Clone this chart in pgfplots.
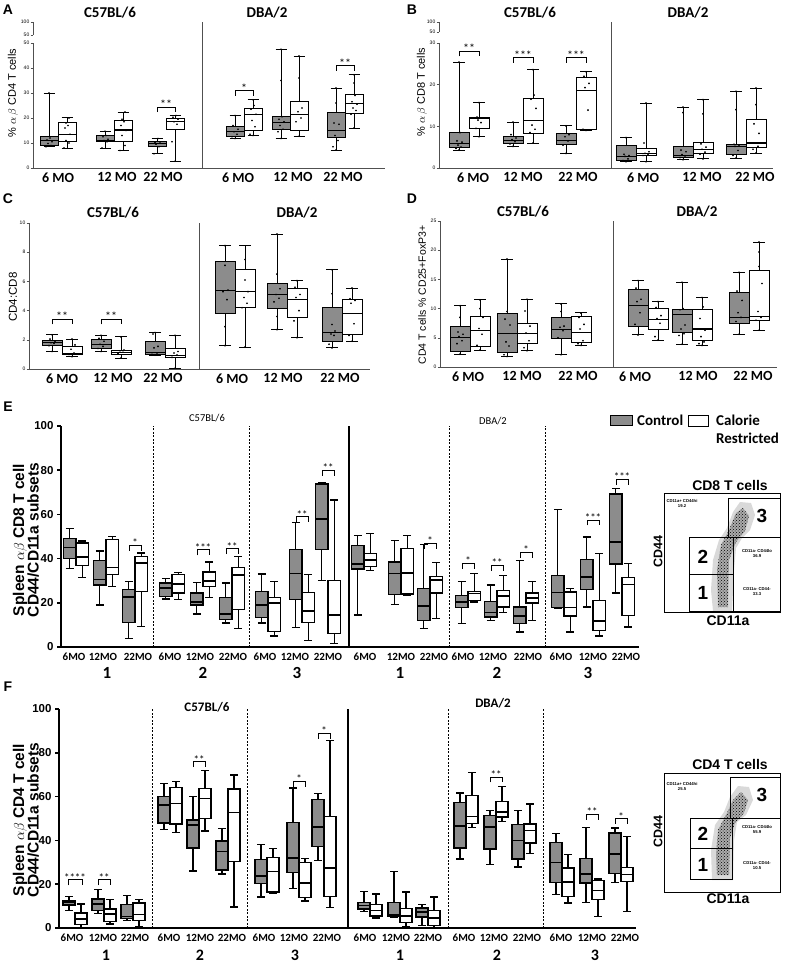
\documentclass[border=0pt]{standalone}
\usepackage{pgfplots}
\pgfplotsset{compat=1.18}
\usetikzlibrary{calc,patterns}
\usepackage{fontspec}
\setmainfont{Carlito}
\newfontfamily\arial{Liberation Sans}
\definecolor{boxgray}{RGB}{140,140,140}
\definecolor{axgray}{RGB}{80,80,80}
\newcommand\fs[1]{\fontsize{#1}{#1}\selectfont}
\def\hw{9}\def\bw{18}\def\cw{11}
\def\blw{0.9pt}\def\mlw{1.1pt}
\newcommand\bx[7]{%
 \pgfmathsetmacro\xa{#1-\bw/2}\pgfmathsetmacro\xb{#1+\bw/2}%
 \pgfmathsetmacro\ca{#1-\cw/2}\pgfmathsetmacro\cb{#1+\cw/2}%
 \addplot[draw=black, line width=\blw, unbounded coords=jump, forget plot] coordinates {(#1,#6)(#1,#7)(nan,nan)(\ca,#7)(\cb,#7)(nan,nan)(#1,#4)(#1,#3)(nan,nan)(\ca,#3)(\cb,#3)};
 \addplot[fill=#2, draw=black, line width=\blw, forget plot] coordinates {(\xa,#4)(\xb,#4)(\xb,#6)(\xa,#6)} -- cycle;
 \addplot[draw=black, line width=\mlw, forget plot] coordinates {(\xa,#5)(\xb,#5)};}
\newcommand\G[6]{\pgfmathsetmacro\xc{#1-\hw}\bx{\xc}{boxgray}{#2}{#3}{#4}{#5}{#6}}
\newcommand\W[6]{\pgfmathsetmacro\xc{#1+\hw}\bx{\xc}{white}{#2}{#3}{#4}{#5}{#6}}
\newcommand\pts[1]{\addplot[only marks, mark=*, mark size=0.65pt, black] coordinates {#1};}
\newcommand\sig[6]{\draw[line width=0.8pt] (axis cs:#1,#3) -- (axis cs:#1,#4) -- (axis cs:#2,#4) -- (axis cs:#2,#3);
 \node[font=\fs{#6}, inner sep=0pt, anchor=base, yshift=-1.5pt] at ($(axis cs:#1,#4)!0.5!(axis cs:#2,#4)$) {#5};}
\pgfplotsset{
 pA/.style={scale only axis, clip=false, axis x line*=bottom, axis y line*=left,
   axis line style={-, axgray, line width=0.7pt}, tick align=outside, major tick length=2.5pt,
   tick style={axgray, line width=0.6pt}, xtick style={draw=none},
   /pgf/number format/assume math mode=true,
   yticklabel style={font=\arial\fs{5}, inner sep=1pt},
   xticklabel style={font=\bfseries\fs{14}, inner sep=2pt}},
 pE/.style={scale only axis, clip=false, axis x line*=bottom, axis y line*=left,
   axis line style={-, black, line width=1.6pt}, tick align=outside, major tick length=4pt,
   tick style={black, line width=1.5pt}, xtick style={draw=none},
   /pgf/number format/assume math mode=true,
   yticklabel style={font=\arial\bfseries\fs{11.5}},
   xticklabel style={font=\bfseries\fs{11}, inner sep=1.5pt, yshift=-0.5pt},
   ytick={0,20,...,100}, ymin=0, ymax=100},
}
\begin{document}
\begin{tikzpicture}
\path[use as bounding box] (0,0) rectangle (785pt,-966pt);
% ---------- panel letters and titles ----------
\node[font=\arial\bfseries\fs{14}] at (8pt,-10pt) {A};
\node[font=\arial\bfseries\fs{14}] at (412pt,-10pt) {B};
\node[font=\arial\bfseries\fs{14}] at (8pt,-199pt) {C};
\node[font=\arial\bfseries\fs{14}] at (412pt,-199pt) {D};
\node[font=\arial\bfseries\fs{14}] at (8pt,-407pt) {E};
\node[font=\arial\bfseries\fs{14}] at (8pt,-687pt) {F};
\node[font=\bfseries\fs{15}] at (110pt,-13pt) {C57BL/6};
\node[font=\bfseries\fs{15}] at (267pt,-13pt) {DBA/2};
\node[font=\bfseries\fs{15}] at (530pt,-13pt) {C57BL/6};
\node[font=\bfseries\fs{15}] at (688pt,-13pt) {DBA/2};
\node[font=\bfseries\fs{15}] at (113pt,-213pt) {C57BL/6};
\node[font=\bfseries\fs{15}] at (297pt,-213pt) {DBA/2};
\node[font=\bfseries\fs{15}] at (523pt,-212pt) {C57BL/6};
\node[font=\bfseries\fs{15}] at (697pt,-212pt) {DBA/2};
\node[font=\fs{10.5}] at (207pt,-418pt) {C57BL/6};
\node[font=\fs{10.5}] at (493pt,-421pt) {DBA/2};
\node[font=\bfseries\fs{13}] at (207pt,-707pt) {C57BL/6};
\node[font=\bfseries\fs{13}] at (493pt,-703pt) {DBA/2};
% y labels
\node[rotate=90, font=\arial\fs{11}] at (13pt,-93pt) {\% $\alpha\,\beta$ CD4 T cells};
\node[rotate=90, font=\arial\fs{11}] at (422pt,-92pt) {\% $\alpha\,\beta$ CD8 T cells};
\node[rotate=90, font=\arial\fs{11.5}] at (13pt,-297pt) {CD4:CD8};
\node[rotate=90, font=\arial\fs{10.5}] at (422pt,-295pt) {CD4 T cells \% CD25+FoxP3+};
\node[rotate=90, align=center, inner sep=0pt, font=\arial\bfseries\fontsize{15.5}{14.5}\selectfont] at (26pt,-540pt) {Spleen $\alpha\beta$ CD8 T cell\\CD44/CD11a subsets};
\node[rotate=90, align=center, inner sep=0pt, font=\arial\bfseries\fontsize{15.5}{14.5}\selectfont] at (26pt,-820pt) {Spleen $\alpha\beta$ CD4 T cell\\CD44/CD11a subsets};
% legend
\draw[line width=0.6pt, fill=boxgray] (610pt,-415pt) rectangle (632pt,-425pt);
\node[anchor=west, font=\bfseries\fs{15}, inner sep=0pt] at (637pt,-420pt) {Control};
\draw[line width=0.6pt, fill=white] (688pt,-415pt) rectangle (708pt,-426pt);
\node[anchor=west, font=\bfseries\fs{15}, inner sep=0pt] at (716pt,-420pt) {Calorie};
\node[anchor=west, font=\bfseries\fs{15}, inner sep=0pt] at (716pt,-438pt) {Restricted};

% ================= A =================
\def\hw{9}\def\bw{18}\def\cw{11}\def\blw{0.9pt}\def\mlw{1.1pt}
\begin{axis}[pA, width=352pt, height=125pt, at={(33pt,-168pt)}, anchor=south west,
  xmin=33, xmax=385, ymin=0, ymax=50, ytick={0,10,...,50},
  xtick={58,117,163,238,293,343}, xticklabels={6 MO,12 MO,22 MO,6 MO,12 MO,22 MO}]
\G{58}{8.5}{9}{11}{12.5}{30} \W{58}{8}{10.5}{13.5}{18.3}{20.3}
\G{114}{7.8}{10.5}{11}{13}{14.8} \W{114}{7}{10.8}{15.2}{19}{22.4}
\G{166}{5.7}{8.7}{9.8}{10.5}{11.8} \W{166}{2.7}{15.3}{18.5}{20}{21.2}
\G{244}{11.8}{12.8}{14.5}{16.5}{21} \W{244}{13}{15}{21.3}{23.8}{27.3}
\G{290}{11.8}{15.3}{18.3}{20.7}{47.5} \W{290}{12.7}{15}{21.5}{26.5}{44.8}
\G{345}{7.2}{12.3}{15}{22.3}{32} \W{345}{16}{22}{25.8}{29.5}{37.3}
\pts{(46,8.5)(51,9)(48,9.8)(52,10.5)(47,11.2)(50,12)(49,30)
(64,8)(69,10)(66,11)(70,13.5)(65,16)(68,17)(66,18)(69,20)
(102,8)(107,10.5)(104,11)(108,11.5)(103,12.5)(106,13)(105,14.7)
(120,7)(125,9)(122,13)(126,15)(121,17)(124,18.5)(122,19.5)(125,22.4)
(154,5.7)(159,8.5)(156,9.5)(160,10)(155,10.2)(158,11.8)
(175,2.7)(172,10.5)(177,17.5)(174,18.5)(178,19.5)(173,20.3)(176,21)
(235,11.8)(232,12.5)(237,13.5)(234,14.5)(238,15.5)(233,17)(235,21)
(253,13)(250,13.5)(255,16.5)(252,19)(256,21.5)(251,23.5)(254,25)(253,27.3)
(281,11.8)(278,14.5)(283,15.5)(280,17)(284,18.5)(279,19.5)(282,20.5)(281,35)(281,47.5)
(299,12.7)(296,18.5)(301,20)(298,22.5)(302,24)(299,36)(299,44.8)
(336,7.2)(333,8.5)(338,11)(335,13)(339,17.5)(334,18)(336,26)(336,32)
(354,16)(351,21.5)(356,23)(353,24)(357,25.5)(352,26.5)(355,29)(354,34)(354,37.3)}
\sig{157}{175}{22.4}{24.4}{**}{12}
\sig{235}{253}{29}{31}{*}{12}
\sig{336}{354}{39}{41}{**}{12}
\draw[axgray, line width=0.7pt] (axis cs:202,0) -- (axis cs:202,58.4);
\end{axis}
\begin{axis}[pA, width=1pt, height=13pt, at={(33pt,-35pt)}, anchor=south west,
  xmin=0, xmax=1, ymin=50, ymax=100, ytick={50,100}, axis x line=none]
\end{axis}
% ================= B =================
\def\hw{10}\def\bw{20}\def\cw{12}
\begin{axis}[pA, width=334pt, height=125pt, at={(439pt,-168pt)}, anchor=south west,
  xmin=439, xmax=773, ymin=0, ymax=30, ytick={0,10,20,30},
  xtick={473,523,578,643,702,755}, xticklabels={6 MO,12 MO,22 MO,6 MO,12 MO,22 MO}]
\G{469}{4.3}{4.9}{5.8}{8.6}{25.4} \W{469}{7.5}{9.6}{11.8}{12.2}{15.7}
\G{523}{5.2}{5.8}{6.6}{7.6}{11} \W{523}{6}{8.4}{11.5}{16.6}{23.6}
\G{576}{3.5}{5.7}{6.7}{8.3}{10.1} \W{576}{9}{9.3}{18.5}{21.8}{23.1}
\G{636}{1.5}{1.9}{2.8}{5.3}{7.3} \W{636}{1.5}{2.9}{3.4}{4.8}{15.6}
\G{693}{2}{2.6}{3.1}{5.2}{14.6} \W{693}{2.2}{3.4}{4.5}{6.2}{16.4}
\G{746}{2.4}{3.2}{5.2}{5.7}{18.4} \W{746}{3.6}{4.9}{6}{11.6}{19.2}
\pts{(459,4.3)(456,4.7)(461,5)(458,5.5)(462,6.2)(457,6.5)(460,8.5)(459,25.4)
(479,7.5)(476,9.5)(481,10.9)(478,11.5)(482,12)(477,12.2)(479,15.7)
(513,5.2)(510,5.8)(515,6.3)(512,6.8)(516,7.2)(511,8)(513,11)
(533,6)(530,8.5)(535,9.3)(532,10.3)(536,14.3)(531,16.5)(534,17.5)(533,23.6)
(566,3.5)(563,5.5)(568,6.5)(565,7.5)(569,8)(566,10.1)
(586,9)(583,9.3)(588,13.9)(585,19.3)(589,20.3)(584,22)(586,23.1)
(626,1.5)(623,1.8)(628,2.2)(625,2.8)(629,3)(624,3.3)(626,7.3)
(646,1.5)(643,3)(648,3.3)(645,3.5)(649,3.9)(644,6)(646,15.6)
(683,2)(680,2.5)(685,2.9)(682,3.2)(686,3.9)(681,4.3)(683,13.3)(683,14.6)
(703,2.2)(700,3.3)(705,3.8)(702,4.5)(706,5)(701,5.8)(703,13)(703,16.4)
(736,2.4)(733,3)(738,4.2)(735,5.2)(739,5.5)(734,5.7)(736,14)(736,18.4)
(756,3.6)(753,4.5)(758,5.2)(755,6)(759,8.3)(754,10.6)(756,15.2)(756,19.2)}
\sig{459}{479}{26.8}{28}{**}{12}
\sig{513}{533}{25.3}{26.5}{***}{12}
\sig{566}{586}{25.3}{26.5}{***}{12}
\draw[axgray, line width=0.7pt] (axis cs:611,0) -- (axis cs:611,35);
\end{axis}
\begin{axis}[pA, width=1pt, height=10pt, at={(439pt,-32pt)}, anchor=south west,
  xmin=0, xmax=1, ymin=50, ymax=100, ytick={50,100}, axis x line=none]
\end{axis}
% ================= C =================
\def\hw{10}\def\bw{20}\def\cw{12}
\begin{axis}[pA, width=341pt, height=146pt, at={(29pt,-369pt)}, anchor=south west,
  xmin=29, xmax=370, ymin=0, ymax=10, ytick={0,2,...,10},
  xtick={62,113,163,232,283,340}, xticklabels={6 MO,12 MO,22 MO,6 MO,12 MO,22 MO}]
\G{62}{1.2}{1.6}{1.8}{1.95}{2.35} \W{62}{0.85}{1.0}{1.05}{1.55}{2.05}
\G{111}{1.2}{1.4}{1.65}{2.0}{2.3} \W{111}{0.75}{1.0}{1.15}{1.3}{2.2}
\G{165}{0.95}{1.0}{1.1}{1.9}{2.5} \W{165}{0.05}{0.8}{0.95}{1.4}{2.3}
\G{235}{1.6}{3.8}{5.35}{7.4}{8.45} \W{235}{1.5}{4.25}{5.3}{6.8}{8.45}
\G{287}{2.7}{4.15}{5.1}{5.85}{9.25} \W{287}{2.15}{3.5}{4.75}{5.5}{6.05}
\G{342}{1.45}{1.9}{2.5}{4.25}{6.8} \W{342}{1.9}{2.4}{3.8}{4.75}{5.55}
\pts{(52,1.2)(49,1.6)(54,1.75)(51,1.8)(55,1.9)(50,2.05)(52,2.35)
(72,0.85)(69,1.0)(74,1.1)(71,1.35)(75,1.65)(72,2.05)
(101,1.2)(98,1.4)(103,1.55)(100,1.7)(104,1.9)(99,2.1)(101,2.3)
(121,0.75)(118,1.05)(123,1.15)(120,1.25)(124,1.3)(121,2.2)
(155,0.95)(152,1.0)(157,1.1)(154,1.45)(158,1.55)(153,2.4)(155,2.5)
(175,0.05)(172,0.8)(177,0.95)(174,1.1)(178,1.2)(175,2.3)
(225,1.6)(225,2.9)(227,4.75)(223,5.3)(228,5.4)(225,7.1)(225,8.45)
(245,1.5)(242,4.2)(247,4.5)(244,4.9)(248,5.3)(245,6.1)(245,7.5)
(277,2.7)(277,3.6)(274,4.6)(279,4.85)(276,5.1)(280,5.5)(277,6.5)(277,9.25)
(297,2.15)(294,3.3)(299,4)(296,4.9)(300,5.1)(295,5.6)(297,6.05)
(332,1.45)(329,1.7)(334,2.3)(331,2.4)(335,2.6)(332,3.05)(332,5.15)(332,6.8)
(352,1.9)(349,2.3)(354,3.1)(351,4.5)(355,4.7)(350,4.8)(352,5.55)}
\sig{52}{72}{3.05}{3.4}{**}{12}
\sig{101}{121}{3.05}{3.4}{**}{12}
\draw[axgray, line width=0.7pt] (axis cs:199,0) -- (axis cs:199,10);
\end{axis}
% ================= D =================
\def\hw{10}\def\bw{20}\def\cw{12}
\begin{axis}[pA, width=337pt, height=146pt, at={(440pt,-367pt)}, anchor=south west,
  xmin=440, xmax=777, ymin=0, ymax=25, ytick={0,5,...,25},
  xtick={468,522,578,635,698,753}, xticklabels={6 MO,12 MO,22 MO,6 MO,12 MO,22 MO}]
\G{470}{2.2}{2.6}{5.0}{6.9}{10.5} \W{470}{2.9}{3.6}{6.2}{8.6}{11.5}
\G{517}{1.8}{2.5}{5.8}{9.2}{18.5} \W{517}{2.8}{4.1}{5.8}{7.5}{11.6}
\G{571}{2.1}{4.9}{6.4}{8.4}{10.8} \W{571}{3.7}{4.2}{5.9}{8.6}{9.4}
\G{648}{5.5}{7.0}{10.5}{13.3}{14.8} \W{648}{4.6}{6.5}{8.2}{10.0}{11.2}
\G{692}{3.9}{5.9}{9.0}{9.9}{14.5} \W{692}{3.7}{4.5}{6.5}{9.9}{11.9}
\G{749}{5.6}{7.5}{8.5}{12.8}{16.2} \W{749}{6.3}{8.0}{8.7}{16.5}{21.4}
\pts{(460,2.2)(457,4.0)(462,4.5)(459,5.2)(463,5.6)(458,6.0)(460,8.5)(460,10.5)
(480,2.9)(477,3.7)(482,5.6)(479,6.6)(483,8.5)(480,10)(480,11.5)
(507,1.8)(504,2.1)(509,3.6)(506,4.3)(510,7.2)(505,8.2)(507,9.5)(507,18.5)
(527,2.8)(524,3.3)(529,4.5)(526,5.8)(530,7.0)(525,9.6)(527,11.6)
(561,2.1)(558,5)(563,6.2)(560,6.8)(564,7.0)(561,9.5)(561,10.8)
(581,3.7)(578,4.0)(583,4.5)(580,6.5)(584,7.3)(579,8.5)(581,9.2)
(638,5.5)(635,7.3)(640,9.3)(637,11.2)(641,11.6)(636,13.5)(638,14.8)
(658,4.6)(655,5.2)(660,7.5)(657,8.3)(661,8.8)(656,10.2)(658,11.2)
(682,3.9)(679,5.4)(684,5.7)(681,6.5)(685,7.2)(680,9.8)(683,10)(682,14.5)
(702,3.7)(699,4.0)(704,4.3)(701,5.2)(705,6.3)(700,8.3)(703,10.3)(702,11.9)
(739,5.6)(736,7.8)(741,8.5)(738,9.3)(742,11.4)(737,13)(739,16.2)
(759,6.3)(756,8.0)(761,8.5)(758,9.5)(762,14.3)(759,17.2)(759,19.7)(759,21.4)}
\draw[axgray, line width=0.7pt] (axis cs:613,0) -- (axis cs:613,25);
\end{axis}
% ================= E =================
\def\hw{6.25}\def\bw{12.5}\def\cw{8}\def\blw{1.3pt}\def\mlw{1.6pt}
\begin{axis}[pE, width=578pt, height=221pt, at={(61pt,-647pt)}, anchor=south west,
  xmin=61, xmax=639,
  xtick={74,103,138,170,200,233,265,295,328,365,401,434,463,493,528,561,593,626},
  xticklabels={6MO,12MO,22MO,6MO,12MO,22MO,6MO,12MO,22MO,6MO,12MO,22MO,6MO,12MO,22MO,6MO,12MO,22MO}]
\G{76}{35.5}{40}{45}{49}{53.5} \W{76}{31.5}{37}{40.7}{47}{48}
\G{106}{19}{28}{30.5}{39}{43.5} \W{106}{27.5}{32.7}{36}{48.5}{50}
\G{135}{4}{11}{22.5}{26}{29.5} \W{135}{9.3}{25.2}{38}{41}{42.5}
\G{172}{21.7}{22.8}{26.8}{29}{31} \W{172}{21.5}{24.5}{28.5}{32.8}{33.8}
\G{203}{15}{19}{20.5}{24.5}{29.3} \W{203}{22.5}{27.5}{30}{34}{38.5}
\G{232}{10.8}{12.5}{15}{22.5}{29} \W{232}{8.5}{17}{32.5}{36}{40.8}
\G{268}{10.8}{13.5}{19}{25}{33} \W{268}{5}{7}{20}{22.5}{29.8}
\G{302}{8.8}{21.5}{33.2}{44}{56.3} \W{302}{3.1}{11}{16.4}{24.7}{32.8}
\G{328}{30}{44}{57.8}{73.8}{74.5} \W{328}{1.5}{6.2}{14.5}{30}{66.5}
\G{364}{14.5}{35.3}{37.5}{46}{50.3} \W{364}{34.5}{36.3}{39.5}{42.3}{51.5}
\G{401}{19.3}{23.9}{33.2}{38.5}{48.3} \W{401}{23.5}{24}{33.5}{44.6}{50.6}
\G{430}{8.3}{12.1}{18.6}{26.4}{46.5} \W{430}{12.8}{24.5}{30.2}{32}{38.2}
\G{468}{10.6}{17.8}{20.4}{23.4}{29.5} \W{468}{20.4}{21.1}{24.2}{25.2}{33.2}
\G{497}{12.1}{13.6}{15.6}{20.5}{28.1} \W{497}{15.6}{18.1}{23.1}{25.7}{32.5}
\G{526}{6.8}{10.6}{14}{18.1}{39.3} \W{526}{12.1}{19.9}{22.2}{24.5}{29.5}
\G{564}{17.5}{17.8}{24.6}{32.5}{62.2} \W{564}{6.8}{14}{17.8}{24.9}{26.4}
\G{593}{18.1}{26}{31.7}{39.6}{49.8} \W{593}{5}{7.5}{11.8}{21.1}{42.3}
\G{622}{24.5}{37.5}{47.6}{69.2}{71.8} \W{622}{9.1}{14.4}{28.2}{31.4}{37.8}
\sig{129}{141}{43.5}{46}{*}{11}
\sig{197}{209}{41.5}{44}{***}{11}
\sig{226}{238}{42}{44.5}{**}{11}
\sig{296}{308}{56.5}{59}{**}{11}
\sig{322}{334}{77.5}{80}{**}{11}
\sig{424}{436}{44.5}{47}{*}{11}
\sig{462}{474}{35.5}{38}{*}{11}
\sig{491}{503}{34.5}{37}{**}{11}
\sig{520}{532}{40.5}{43}{*}{11}
\sig{587}{599}{55}{57.5}{***}{11}
\sig{616}{628}{73.3}{75.8}{***}{11}
\draw[dash pattern=on 2pt off 1.5pt, line width=0.7pt] (axis cs:153,0) -- (axis cs:153,100);
\draw[dash pattern=on 2pt off 1.5pt, line width=0.7pt] (axis cs:249,0) -- (axis cs:249,100);
\draw[line width=1.6pt] (axis cs:349,0) -- (axis cs:349,100);
\draw[dash pattern=on 2pt off 1.5pt, line width=0.7pt] (axis cs:449,0) -- (axis cs:449,100);
\draw[dash pattern=on 2pt off 1.5pt, line width=0.7pt] (axis cs:545,0) -- (axis cs:545,100);
\node[font=\bfseries\fs{17}] at (axis cs:107,-11.8) {1};
\node[font=\bfseries\fs{17}] at (axis cs:203,-11.8) {2};
\node[font=\bfseries\fs{17}] at (axis cs:297,-11.8) {3};
\node[font=\bfseries\fs{17}] at (axis cs:400,-11.8) {1};
\node[font=\bfseries\fs{17}] at (axis cs:497,-11.8) {2};
\node[font=\bfseries\fs{17}] at (axis cs:588,-11.8) {3};
\end{axis}
% ================= F =================
\def\hw{6}\def\bw{12}\def\cw{8}
\begin{axis}[pE, width=577pt, height=219pt, at={(59pt,-928pt)}, anchor=south west,
  xmin=59, xmax=636,
  xtick={72,103,135,169,200,232,264,294,327,365,396,428,464,494,527,561,592,625},
  xticklabels={6MO,12MO,22MO,6MO,12MO,22MO,6MO,12MO,22MO,6MO,12MO,22MO,6MO,12MO,22MO,6MO,12MO,22MO}]
\G{75}{8}{10.5}{11.8}{12.5}{14.5} \W{75}{0}{1.5}{4.1}{6.8}{11}
\G{104}{6.5}{7.9}{11.1}{13.2}{17.5} \W{104}{1.8}{3}{6.4}{8.7}{12.9}
\G{133}{3.5}{4.3}{5.3}{10.7}{14.9} \W{133}{0.8}{3.5}{6.1}{11.4}{12.9}
\G{170}{45}{48}{56.3}{60}{66} \W{170}{43.7}{47.5}{56.8}{64.3}{67}
\G{199}{26}{36.5}{47}{49.3}{60} \W{199}{44.3}{50}{59.2}{63.8}{72}
\G{228}{24.7}{26.5}{35}{39.8}{45.5} \W{228}{9.6}{30.3}{52.8}{63.5}{69.8}
\G{267}{14.2}{20.2}{23.8}{31.3}{38} \W{267}{16}{16.5}{25.8}{32.2}{36.3}
\G{299}{18}{25.2}{32}{48.3}{64} \W{299}{12.3}{13.8}{20.5}{30}{31.9}
\G{324}{30.8}{37.2}{46}{58.7}{61.5} \W{324}{9.3}{14.5}{27.3}{50.8}{85.5}
\G{370}{7.5}{8.7}{10.3}{11.5}{16.8} \W{370}{4.6}{5.5}{8}{10.6}{15.5}
\G{400}{5}{5.5}{6}{11.8}{25.9} \W{400}{0.8}{2.6}{5.6}{8.8}{16.4}
\G{428}{1.2}{5}{7.3}{9.1}{10.7} \W{428}{0}{1.2}{4.6}{7.9}{14.2}
\G{466}{31.5}{36.5}{46.7}{57.4}{61.6} \W{466}{46}{47.6}{51}{60.6}{71.1}
\G{496}{28.9}{36.1}{46}{51.3}{53.7} \W{496}{48.5}{50.7}{53}{57.8}{64.7}
\G{524}{27.9}{31.5}{39.9}{47.2}{53.7} \W{524}{33.9}{38.8}{44.6}{47.5}{56.6}
\G{562}{15.2}{20.9}{30}{39.1}{43.1} \W{562}{11.4}{14.5}{21}{27.4}{33.5}
\G{592}{11.7}{20.5}{24.8}{31.7}{46} \W{592}{5.3}{12.9}{17.2}{21.6}{22.4}
\G{621}{20.9}{24.8}{33.9}{43.4}{45.7} \W{621}{7.6}{21.3}{24.4}{27.7}{41.9}
\sig{68}{82}{19.5}{22}{****}{11}
\sig{98}{110}{19.5}{22}{**}{11}
\sig{193}{205}{73.5}{76}{**}{11}
\sig{293}{305}{64.5}{67}{*}{11}
\sig{318}{330}{86.5}{89}{*}{11}
\sig{490}{502}{66.5}{69}{**}{11}
\sig{586}{598}{49.5}{52}{**}{11}
\sig{615}{627}{47.5}{50}{*}{11}
\draw[dash pattern=on 2pt off 1.5pt, line width=0.7pt] (axis cs:152,0) -- (axis cs:152,100);
\draw[dash pattern=on 2pt off 1.5pt, line width=0.7pt] (axis cs:247,0) -- (axis cs:247,100);
\draw[line width=1.6pt] (axis cs:348,0) -- (axis cs:348,100);
\draw[dash pattern=on 2pt off 1.5pt, line width=0.7pt] (axis cs:448,0) -- (axis cs:448,100);
\draw[dash pattern=on 2pt off 1.5pt, line width=0.7pt] (axis cs:543,0) -- (axis cs:543,100);
\node[font=\bfseries\fs{16}] at (axis cs:106,-12.6) {1};
\node[font=\bfseries\fs{16}] at (axis cs:200,-12.6) {2};
\node[font=\bfseries\fs{16}] at (axis cs:295,-12.6) {3};
\node[font=\bfseries\fs{16}] at (axis cs:400,-12.6) {1};
\node[font=\bfseries\fs{16}] at (axis cs:497,-12.6) {2};
\node[font=\bfseries\fs{16}] at (axis cs:595,-12.6) {3};
\end{axis}
% ================= flow plots =================
\begin{axis}[scale only axis, width=116pt, height=119pt, at={(664pt,-612pt)}, anchor=south west,
  xmin=664, xmax=780, ymin=-612, ymax=-493, xtick=\empty, ytick=\empty, axis line style={line width=0.8pt}, clip=false]
\addplot[fill=gray!30, draw=none] coordinates {(713,-611)(732,-611)(734,-570)(736,-548)(742,-538)(750,-530)(755,-515)(751,-503)(740,-502)(733,-512)(727,-528)(719,-540)(713,-560)(711,-590)};
\addplot[fill=gray!65, draw=none, postaction={pattern=crosshatch dots, pattern color=black}] coordinates {(718,-607)(728,-607)(729,-560)(736,-542)(745,-531)(749,-516)(743,-508)(736,-513)(729,-530)(721,-545)(717,-570)};
\draw[line width=1pt] (axis cs:728,-537) rectangle (axis cs:780,-498);
\draw[line width=0.8pt] (axis cs:689,-611) rectangle (axis cs:780,-537);
\draw[line width=1pt] (axis cs:689,-611) rectangle (axis cs:733,-574);
\draw[line width=1pt] (axis cs:689,-574) rectangle (axis cs:733,-537);
\end{axis}
\begin{axis}[scale only axis, width=116pt, height=119pt, at={(664pt,-892pt)}, anchor=south west,
  xmin=664, xmax=780, ymin=-892, ymax=-773, xtick=\empty, ytick=\empty, axis line style={line width=0.8pt}, clip=false]
\addplot[fill=gray!30, draw=none] coordinates {(712,-880)(733,-880)(734,-840)(737,-822)(746,-815)(753,-800)(749,-787)(738,-786)(730,-797)(724,-812)(715,-825)(711,-850)};
\addplot[fill=gray!65, draw=none, postaction={pattern=crosshatch dots, pattern color=black}] coordinates {(717,-875)(729,-875)(730,-838)(735,-823)(744,-813)(748,-800)(741,-792)(733,-800)(726,-815)(718,-830)(716,-855)};
\draw[line width=1pt] (axis cs:730,-818) rectangle (axis cs:780,-777);
\draw[line width=0.8pt] (axis cs:690,-818) -- (axis cs:780,-818);
\draw[line width=1pt] (axis cs:690,-879) rectangle (axis cs:732,-848);
\draw[line width=1pt] (axis cs:690,-848) rectangle (axis cs:732,-818);
\end{axis}
% flow labels
\node[font=\arial\bfseries\fs{14}] at (730pt,-485pt) {CD8 T cells};
\node[font=\arial\bfseries\fs{14}] at (730pt,-764pt) {CD4 T cells};
\node[rotate=90, font=\arial\bfseries\fs{12.5}] at (658pt,-552pt) {CD44};
\node[rotate=90, font=\arial\bfseries\fs{12.5}] at (658pt,-832pt) {CD44};
\node[font=\arial\bfseries\fs{14}] at (728pt,-621pt) {CD11a};
\node[font=\arial\bfseries\fs{14}] at (728pt,-899pt) {CD11a};
\node[font=\arial\bfseries\fs{19}] at (762pt,-516pt) {3};
\node[font=\arial\bfseries\fs{19}] at (703pt,-557pt) {2};
\node[font=\arial\bfseries\fs{19}] at (703pt,-593pt) {1};
\node[font=\arial\bfseries\fs{19}] at (762pt,-795pt) {3};
\node[font=\arial\bfseries\fs{19}] at (703pt,-834pt) {2};
\node[font=\arial\bfseries\fs{19}] at (703pt,-865pt) {1};
\node[align=center, font=\arial\bfseries\fontsize{4.2}{5}\selectfont] at (682pt,-503pt) {CD11a+ CD44hi\\19.2};
\node[align=center, font=\arial\bfseries\fontsize{4.2}{5}\selectfont] at (757pt,-553pt) {CD11a- CD44lo\\36.9};
\node[align=center, font=\arial\bfseries\fontsize{4.2}{5}\selectfont] at (757pt,-592pt) {CD11a- CD44-\\33.3};
\node[align=center, font=\arial\bfseries\fontsize{4.2}{5}\selectfont] at (682pt,-786pt) {CD11a+ CD44hi\\25.5};
\node[align=center, font=\arial\bfseries\fontsize{4.2}{5}\selectfont] at (757pt,-829pt) {CD11a- CD44lo\\55.9};
\node[align=center, font=\arial\bfseries\fontsize{4.2}{5}\selectfont] at (757pt,-866pt) {CD11a- CD44-\\10.5};
\end{tikzpicture}
\end{document}
